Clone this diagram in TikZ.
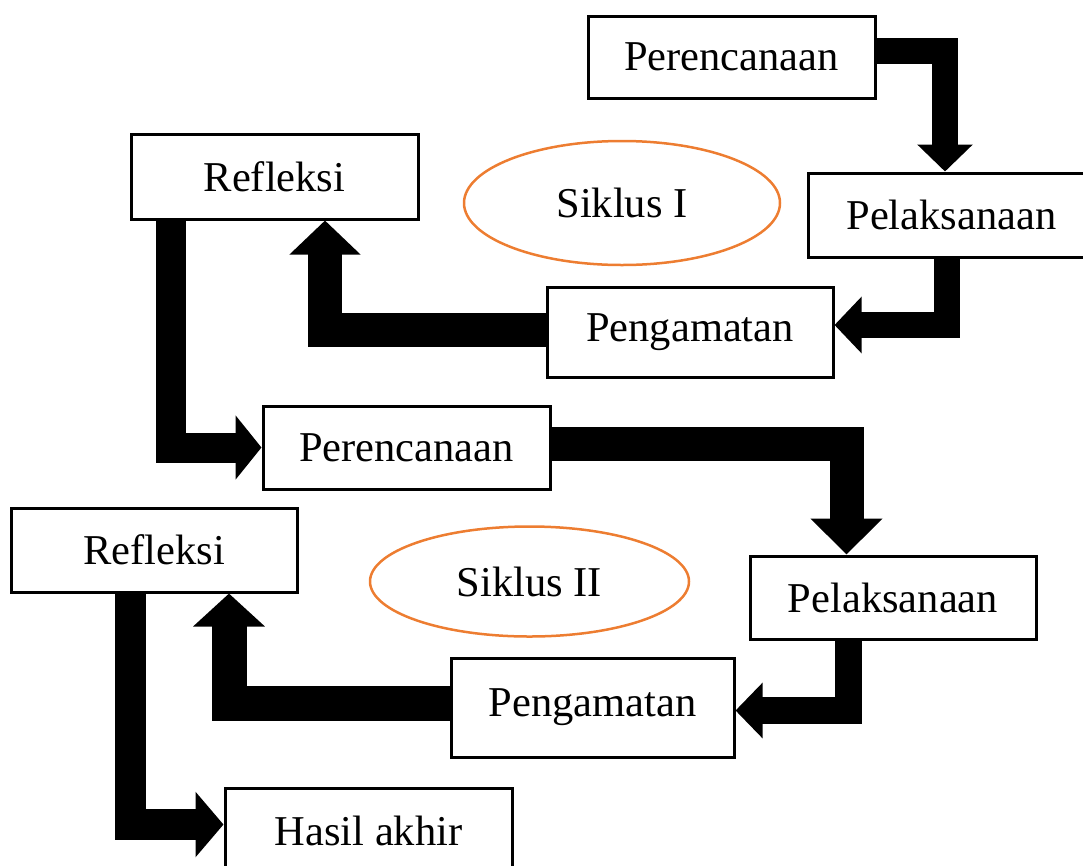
\documentclass[tikz,border=0pt]{standalone}
\usepackage{fontspec}
\setmainfont{Liberation Serif}
\usetikzlibrary{arrows.meta,shapes.geometric}
\definecolor{oranye}{HTML}{ED7D31}
\tikzset{
  kotak/.style={draw, line width=3pt, fill=white, inner sep=0pt, minimum width=287pt, minimum height=84pt},
  siklus/.style={ellipse, draw=oranye, line width=2.5pt, inner sep=0pt},
  panah/.style n args={3}{line width=#1, line join=miter, -{Triangle[width=#2,length=#3]}}
}
\begin{document}
\begin{tikzpicture}[x=1pt, y=-1pt, font=\fontsize{42.5}{50}\selectfont]
 	\useasboundingbox (0,0) rectangle (1083,865);
 	% Siklus I
 	\node[kotak, minimum height=82pt] (per1) at (731.5,57) {Perencanaan};
 	\node[kotak] (pel1) at (951.5,215) {Pelaksanaan};
 	\node[kotak, minimum width=286pt, minimum height=90pt] (pen1) at (690,332) {Pengamatan};
 	\node[kotak, minimum height=85pt] (ref1) at (274.5,176.5) {Refleksi};
 	\node[siklus, minimum width=316pt, minimum height=124pt] (sik1) at (622,203) {Siklus I};
 	% Siklus II
 	\node[kotak, minimum height=83pt] (per2) at (406.5,447.5) {Perencanaan};
 	\node[kotak, minimum height=83pt, minimum width=286pt] (pel2) at (893,597.5) {Pelaksanaan};
 	\node[kotak, minimum width=283pt, minimum height=99pt] (pen2) at (592.5,707.5) {Pengamatan};
 	\node[kotak, minimum width=286pt] (ref2) at (154,550) {Refleksi};
 	\node[siklus, minimum width=319pt, minimum height=110pt] (sik2) at (529.5,581.5) {Siklus II};
 	\node[kotak, minimum height=85pt] (hasil) at (368.5,831) {Hasil akhir};
 	% panah
 	\draw[panah={26pt}{54pt}{27pt}] ([yshift=6pt]per1.east) -| ([xshift=-6.5pt]pel1.north);
 	\draw[panah={26pt}{55pt}{27pt}] ([xshift=-4.5pt]pel1.south) |- ([yshift=7pt]pen1.east);
 	\draw[panah={34pt}{69pt}{34pt}] ([yshift=2pt]pen1.west) -| ([xshift=50.5pt]ref1.south);
 	\draw[panah={30pt}{63pt}{26pt}] ([xshift=-103.5pt]ref1.south) |- (per2.west);
 	\draw[panah={34pt}{70pt}{36pt}] ([yshift=3.5pt]per2.east) -| ([xshift=-46.5pt]pel2.north);
 	\draw[panah={27pt}{54pt}{27pt}] ([xshift=-44.5pt]pel2.south) |- ([yshift=-3pt]pen2.east);
 	\draw[panah={35pt}{70pt}{33pt}] ([yshift=4pt]pen2.west) -| ([xshift=75pt]ref2.south);
 	\draw[panah={31pt}{64pt}{28pt}] ([xshift=-23.5pt]ref2.south) |- ([yshift=6.5pt]hasil.west);
\end{tikzpicture}
\end{document}
